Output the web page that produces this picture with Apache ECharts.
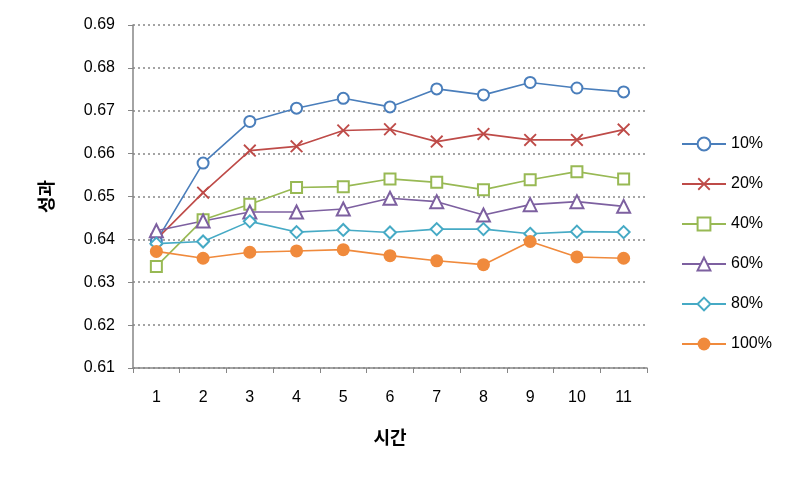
<!DOCTYPE html>
<html><head><meta charset="utf-8">
<script src="https://cdn.jsdelivr.net/npm/echarts@6/dist/echarts.min.js"></script>
<style>html,body{margin:0;padding:0;background:#fff}#c{width:803px;height:484px}</style>
</head><body><div id="c"></div>
<script>
const categories = ['1','2','3','4','5','6','7','8','9','10','11'];
const seriesNames = ['10%','20%','40%','60%','80%','100%'];
const s10 = [0.6396,0.6578,0.6675,0.6706,0.6729,0.6709,0.6751,0.6737,0.6766,0.6753,0.6744];
const s20 = [0.6400,0.6509,0.6607,0.6617,0.6654,0.6657,0.6628,0.6646,0.6632,0.6632,0.6656];
const s40 = [0.6337,0.6446,0.6482,0.6521,0.6523,0.6541,0.6533,0.6516,0.6539,0.6558,0.6541];
const s60 = [0.6420,0.6443,0.6464,0.6464,0.6471,0.6496,0.6488,0.6457,0.6481,0.6488,0.6477];
const s80 = [0.6390,0.6395,0.6442,0.6417,0.6422,0.6416,0.6424,0.6424,0.6413,0.6418,0.6417];
const s100 = [0.6372,0.6356,0.6370,0.6373,0.6376,0.6362,0.6350,0.6341,0.6395,0.6359,0.6356];
const allData = [s10,s20,s40,s60,s80,s100];
const colors = ['#4A7EBB','#BE4B48','#98B954','#7D60A0','#46AAC5','#F08A3C'];
const symbols = ['emptyCircle','path://M0,1 L1,0 L5,4 L9,0 L10,1 L6,5 L10,9 L9,10 L5,6 L1,10 L0,9 L4,5 Z','emptyRect','emptyTriangle','emptyDiamond','circle'];
const sizes = [11,13,11,13,12,13];
const font = '"Liberation Sans", Arial, sans-serif';

const series = seriesNames.map((n,i)=>({
  name:n, type:'line', data:allData[i], symbol:symbols[i], symbolSize:sizes[i],
  lineStyle:{color:colors[i], width:1.6},
  itemStyle:{color:colors[i], borderColor:colors[i], borderWidth:(i===1||i===5)?0:1.5},
  emphasis:{disabled:true}, animation:false
}));

const chart = echarts.init(document.getElementById('c'));
chart.setOption({
  animation:false,
  color:colors,
  grid:{left:133,right:156,top:25,bottom:116},
  legend:{
    orient:'vertical', left:676, top:131, itemWidth:44, itemHeight:16, itemGap:24,
    data:seriesNames, textStyle:{fontFamily:font, fontSize:16, color:'#000'},
    selectedMode:false
  },
  xAxis:{
    type:'category', data:categories, boundaryGap:true,
    name:'시간', nameLocation:'middle', nameGap:60,
    nameTextStyle:{fontFamily:'"Noto Sans CJK KR", sans-serif', fontSize:18, fontWeight:'bold', color:'#000'},
    axisLine:{lineStyle:{color:'#868686', width:1.5}},
    axisTick:{show:true, length:5, alignWithLabel:false, lineStyle:{color:'#868686'}},
    axisLabel:{fontFamily:font, fontSize:16, color:'#000', margin:22}
  },
  yAxis:{
    type:'value', min:0.61, max:0.69, interval:0.01,
    name:'성과', nameLocation:'middle', nameGap:78, nameRotate:90,
    nameTextStyle:{fontFamily:'"Noto Sans CJK KR", sans-serif', fontSize:18, fontWeight:'bold', color:'#000'},
    axisLine:{show:true, lineStyle:{color:'#868686', width:1.5}},
    axisTick:{show:true, length:5, lineStyle:{color:'#868686'}},
    axisLabel:{fontFamily:font, fontSize:16, color:'#000', margin:18, formatter:v=>v.toFixed(2)},
    splitLine:{show:true, lineStyle:{color:'#868686', type:[2,3], width:1.5}}
  },
  series:series
});
</script></body></html>
